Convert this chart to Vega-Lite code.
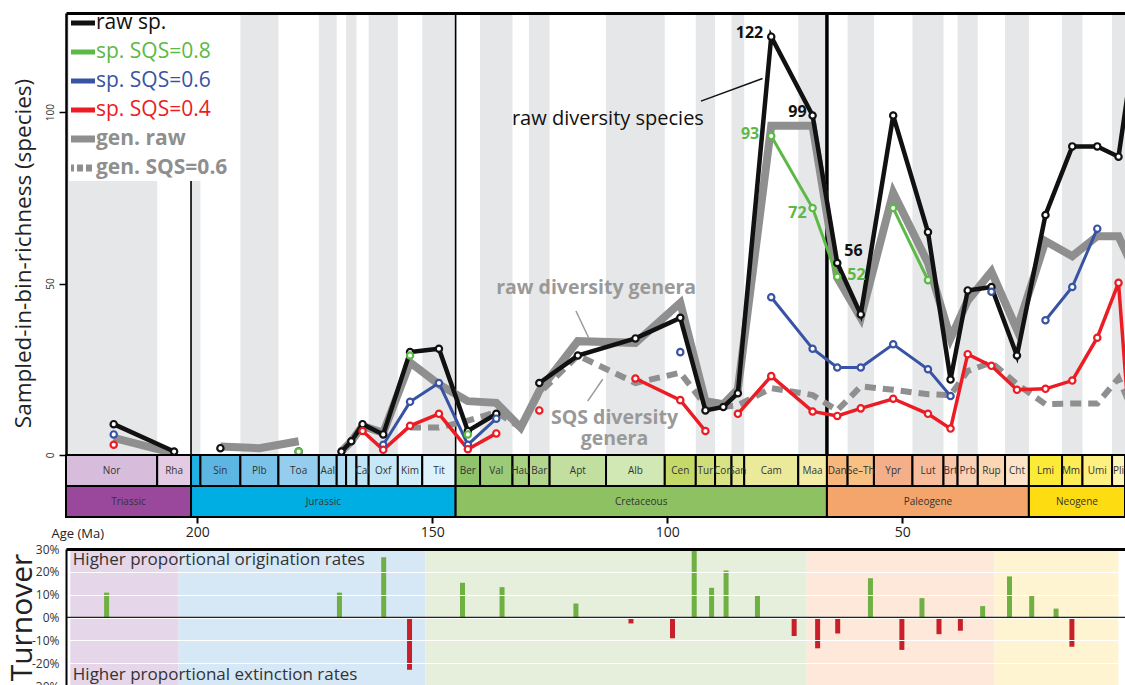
{
"$schema": "https://vega.github.io/schema/vega-lite/v6.json",
"background": "white",
"padding": {"left": 6, "top": 10, "right": 0, "bottom": 0},
"autosize": {"type": "pad"},
"config": {
  "font": "Open Sans",
  "view": {"stroke": null},
  "axis": {"labelFont": "Open Sans", "titleFont": "Open Sans"},
  "axisY": {"labelOverlap": false},
  "legend": {"labelFont": "Open Sans"},
  "text": {"font": "Open Sans"}
},
"datasets": {
  "bands": [
    {"row":"stage","name":"Nor","label":"Nor","start":227.9,"end":208.5,"mid":218.2},
    {"row":"stage","name":"Rha","label":"Rha","start":208.5,"end":201.3,"mid":204.9},
    {"row":"stage","name":"Het","label":"","start":201.3,"end":199.3,"mid":200.3},
    {"row":"stage","name":"Sin","label":"Sin","start":199.3,"end":190.8,"mid":195.05},
    {"row":"stage","name":"Plb","label":"Plb","start":190.8,"end":182.7,"mid":186.75},
    {"row":"stage","name":"Toa","label":"Toa","start":182.7,"end":174.1,"mid":178.4},
    {"row":"stage","name":"Aal","label":"Aal","start":174.1,"end":170.3,"mid":172.2},
    {"row":"stage","name":"Baj","label":"","start":170.3,"end":168.3,"mid":169.3},
    {"row":"stage","name":"Bat","label":"","start":168.3,"end":166.1,"mid":167.2},
    {"row":"stage","name":"Cal","label":"Cal","start":166.1,"end":163.5,"mid":164.8},
    {"row":"stage","name":"Oxf","label":"Oxf","start":163.5,"end":157.3,"mid":160.4},
    {"row":"stage","name":"Kim","label":"Kim","start":157.3,"end":152.1,"mid":154.7},
    {"row":"stage","name":"Tit","label":"Tit","start":152.1,"end":145.0,"mid":148.55},
    {"row":"stage","name":"Ber","label":"Ber","start":145.0,"end":139.8,"mid":142.4},
    {"row":"stage","name":"Val","label":"Val","start":139.8,"end":132.9,"mid":136.35},
    {"row":"stage","name":"Hau","label":"Hau","start":132.9,"end":129.4,"mid":131.15},
    {"row":"stage","name":"Bar","label":"Bar","start":129.4,"end":125.0,"mid":127.2},
    {"row":"stage","name":"Apt","label":"Apt","start":125.0,"end":113.0,"mid":119.0},
    {"row":"stage","name":"Alb","label":"Alb","start":113.0,"end":100.5,"mid":106.75},
    {"row":"stage","name":"Cen","label":"Cen","start":100.5,"end":93.9,"mid":97.2},
    {"row":"stage","name":"Tur","label":"Tur","start":93.9,"end":89.8,"mid":91.85},
    {"row":"stage","name":"Con","label":"Con","start":89.8,"end":86.3,"mid":88.05},
    {"row":"stage","name":"San","label":"San","start":86.3,"end":83.6,"mid":84.95},
    {"row":"stage","name":"Cam","label":"Cam","start":83.6,"end":72.1,"mid":77.85},
    {"row":"stage","name":"Maa","label":"Maa","start":72.1,"end":66.0,"mid":69.05},
    {"row":"stage","name":"Dan","label":"Dan","start":66.0,"end":61.6,"mid":63.8},
    {"row":"stage","name":"SeTh","label":"Se–Th","start":61.6,"end":56.0,"mid":58.8},
    {"row":"stage","name":"Ypr","label":"Ypr","start":56.0,"end":47.8,"mid":51.9},
    {"row":"stage","name":"Lut","label":"Lut","start":47.8,"end":41.2,"mid":44.5},
    {"row":"stage","name":"Brt","label":"Brt","start":41.2,"end":38.2,"mid":39.7},
    {"row":"stage","name":"Prb","label":"Prb","start":38.2,"end":33.9,"mid":36.05},
    {"row":"stage","name":"Rup","label":"Rup","start":33.9,"end":28.1,"mid":31.0},
    {"row":"stage","name":"Cht","label":"Cht","start":28.1,"end":23.03,"mid":25.57},
    {"row":"stage","name":"Lmi","label":"Lmi","start":23.03,"end":15.97,"mid":19.5},
    {"row":"stage","name":"Mmi","label":"Mmi","start":15.97,"end":11.63,"mid":13.8},
    {"row":"stage","name":"Umi","label":"Umi","start":11.63,"end":5.33,"mid":8.48},
    {"row":"stage","name":"Pli","label":"Pli","start":5.33,"end":2.58,"mid":3.96},
    {"row":"period","name":"Triassic","label":"Triassic","start":227.9,"end":201.3,"mid":214.6},
    {"row":"period","name":"Jurassic","label":"Jurassic","start":201.3,"end":145.0,"mid":173.15},
    {"row":"period","name":"Cretaceous","label":"Cretaceous","start":145.0,"end":66.0,"mid":105.5},
    {"row":"period","name":"Paleogene","label":"Paleogene","start":66.0,"end":23.03,"mid":44.5},
    {"row":"period","name":"Neogene","label":"Neogene","start":23.03,"end":2.58,"mid":12.8}
  ],
  "series": [
    {"stage":"Nor","age":217.75,"raw":9,"s6":6,"s4":3,"graw":5},
    {"stage":"Rha","age":204.9,"raw":1,"graw":0.5},
    {"stage":"Het","age":200.3},
    {"stage":"Sin","age":195.05,"raw":2,"graw":2.5},
    {"stage":"Plb","age":186.75,"graw":2},
    {"stage":"Toa","age":178.4,"raw":1,"s8":1,"graw":4},
    {"stage":"Aal","age":172.2},
    {"stage":"Baj","age":169.3,"raw":1,"graw":1},
    {"stage":"Bat","age":167.2,"raw":4,"graw":4},
    {"stage":"Cal","age":164.8,"raw":9,"s4":7,"graw":8.5},
    {"stage":"Oxf","age":160.4,"raw":6,"s6":3,"s4":1.5,"graw":6.5},
    {"stage":"Kim","age":154.7,"raw":30,"s8":29,"s6":15.5,"s4":8.5,"graw":27,"gsqs":8},
    {"stage":"Tit","age":148.55,"raw":31,"s6":21,"s4":12,"graw":20.6,"gsqs":8},
    {"stage":"Ber","age":142.4,"raw":7,"s8":6,"s6":3,"s4":1.7,"graw":15.7,"gsqs":10},
    {"stage":"Val","age":136.35,"raw":12,"s6":10.6,"s4":6.3,"graw":15.2,"gsqs":12.5},
    {"stage":"Hau","age":131.15,"graw":8,"gsqs":8},
    {"stage":"Bar","age":127.2,"raw":21,"s4":13,"graw":18.7,"gsqs":18},
    {"stage":"Apt","age":119.0,"raw":29,"graw":33.2,"gsqs":29},
    {"stage":"Alb","age":106.75,"raw":34,"s4":22.3,"graw":32.7,"gsqs":21},
    {"stage":"Cen","age":97.2,"raw":40,"s6":30,"s4":16,"graw":44.4,"gsqs":24},
    {"stage":"Tur","age":91.85,"raw":13,"s4":7,"graw":15.7,"gsqs":14.5},
    {"stage":"Con","age":88.05,"raw":14,"graw":14.8,"gsqs":14},
    {"stage":"San","age":84.95,"raw":18,"s4":12,"graw":19.2,"gsqs":14.5},
    {"stage":"Cam","age":77.85,"raw":122,"s8":93,"s6":46,"s4":23,"graw":96,"gsqs":19.5},
    {"stage":"Maa","age":69.05,"raw":99,"s8":72,"s6":31,"s4":12.7,"graw":96,"gsqs":17.5},
    {"stage":"Dan","age":63.8,"raw":56,"s8":52,"s6":25.5,"s4":11.4,"graw":51.7,"gsqs":13},
    {"stage":"SeTh","age":58.8,"raw":41,"s6":25.5,"s4":13.6,"graw":40,"gsqs":20},
    {"stage":"Ypr","age":51.9,"raw":99,"s8":72,"s6":32.3,"s4":16.4,"graw":76.5,"gsqs":19},
    {"stage":"Lut","age":44.5,"raw":65,"s8":51,"s6":25,"s4":12,"graw":56,"gsqs":17.7},
    {"stage":"Brt","age":39.7,"raw":22,"s6":17.2,"s4":7.7,"graw":34,"gsqs":17.5},
    {"stage":"Prb","age":36.05,"raw":48,"s4":29.4,"graw":45,"gsqs":24.5},
    {"stage":"Rup","age":31.0,"raw":49,"s6":47.6,"s4":26,"graw":53.5,"gsqs":27},
    {"stage":"Cht","age":25.57,"raw":29,"s4":19,"graw":36.6,"gsqs":20.7},
    {"stage":"Lmi","age":19.5,"raw":70,"s6":39.3,"s4":19.3,"graw":62.4,"gsqs":14.8},
    {"stage":"Mmi","age":13.8,"raw":90,"s6":49,"s4":21.7,"graw":58,"gsqs":15},
    {"stage":"Umi","age":8.48,"raw":90,"s6":66,"s4":34.2,"graw":63.8,"gsqs":15},
    {"stage":"Pli","age":3.96,"raw":87,"s4":50.2,"graw":63.8,"gsqs":22.4},
    {"stage":"Ple","age":1.3,"raw":112,"s4":2,"graw":56,"gsqs":14}
  ],
  "turnover": [
    {"age":219.0,"value":10.9},{"age":164.6,"value":10.9},{"age":154.5,"value":26.4},{"age":148.6,"value":-22.9},
    {"age":137.3,"value":15.2},{"age":129.1,"value":13.3},{"age":113.8,"value":6.1},{"age":102.4,"value":-2.6},
    {"age":93.8,"value":-9.1},{"age":89.3,"value":29.6},{"age":85.7,"value":13.0},{"age":82.7,"value":20.6},
    {"age":76.2,"value":9.7},{"age":68.6,"value":-8.1},{"age":63.5,"value":-13.5},{"age":58.9,"value":-7.0},
    {"age":51.4,"value":17.2},{"age":44.2,"value":-14.2},{"age":39.6,"value":8.5},{"age":35.7,"value":-7.3},
    {"age":30.8,"value":-5.8},{"age":25.7,"value":5.0},{"age":20.53,"value":18.0},{"age":16.87,"value":9.4},
    {"age":12.86,"value":3.9},{"age":10.25,"value":-12.8}
  ],
  "notes": [
    {"text":"raw diversity species","kind":"species","age":112.6,"value":98},
    {"text":"raw diversity genera","kind":"genera","age":115.1,"value":48.7},
    {"text":"SQS diversity\ngenera","kind":"genera","age":111.2,"value":10.9}
  ],
  "leaders": [
    {"kind":"species","age":92.8,"value":103.2,"age2":79.7,"value2":109.8},
    {"kind":"genera","age":119.4,"value":42,"age2":116.7,"value2":34.2},
    {"kind":"genera","age":113.7,"value":22.1,"age2":116.9,"value2":15.7}
  ],
  "notesB": [
    {"text":"Higher proportional origination rates","age":227.3,"value":25},
    {"text":"Higher proportional extinction rates","age":227.3,"value":-25}
  ]
},
"bounds": "flush",
"spacing": 0,
"resolve": {"scale": {"color": "independent", "fill": "independent"}},
"vconcat": [
  {
    "width": 1059,
    "height": 442,
    "layer": [
      {
        "data": {"name": "bands"},
        "transform": [
          {"filter": "datum.row === 'stage'"},
          {"window": [{"op": "row_number", "as": "n"}], "sort": [{"field": "start", "order": "descending"}]},
          {"filter": "datum.n % 2 === 1"}
        ],
        "mark": {"type": "rect", "color": "#e6e7e8"},
        "encoding": {
          "x": {"field": "start", "type": "quantitative", "scale": {"domain": [2.58, 227.9], "reverse": true, "nice": false, "zero": false},
                "axis": {"orient": "top", "labels": false, "ticks": false, "grid": false, "domainColor": "#000", "domainWidth": 3, "title": null, "zindex": 1}},
          "x2": {"field": "end"}
        }
      },
      {
        "data": {"name": "bands"},
        "transform": [{"filter": "datum.name === 'Triassic' || datum.name === 'Jurassic'"}],
        "mark": {"type": "rule", "color": "#000", "strokeWidth": 1.6},
        "encoding": {"x": {"field": "end", "type": "quantitative"}}
      },
      {
        "data": {"name": "bands"},
        "transform": [{"filter": "datum.name === 'Cretaceous'"}],
        "mark": {"type": "rule", "color": "#000", "strokeWidth": 3.5},
        "encoding": {"x": {"field": "end", "type": "quantitative"}}
      },
      {
        "data": {"name": "series"},
        "transform": [{"fold": ["raw","s8","s6","s4","graw","gsqs"], "as": ["key","value"]}, {"filter": "datum.key === 'graw'"}],
        "mark": {"type": "line", "strokeWidth": 8, "invalid": "break-paths-show-domains", "clip": true},
        "encoding": {
          "x": {"field": "age", "type": "quantitative"},
          "y": {"field": "value", "type": "quantitative", "scale": {"domain": [0, 128.9], "nice": false, "zero": false},
                "axis": {"values": [0, 50, 100], "labelAngle": 270, "labelAlign": "center", "labelBaseline": "bottom", "labelFontSize": 10, "labelColor": "#333",
                         "tickSize": 7, "tickWidth": 1.5, "tickColor": "#000", "labelPadding": 4, "domainColor": "#000", "domainWidth": 2.5, "grid": false, "zindex": 1,
                         "title": "Sampled-in-bin-richness (species)", "titleFontSize": 22.5, "titleFontWeight": "normal", "titleColor": "#222",
                         "titleX": -43, "titleY": 240, "titleAngle": 270, "titleAlign": "center", "titleBaseline": "middle"}},
          "color": {"field": "key", "type": "nominal",
                    "scale": {"domain": ["raw","s8","s6","s4","graw","gsqs"], "range": ["#111111","#5cb946","#3953a4","#ec1c24","#8f8f8f","#8f8f8f"]},
                    "legend": {"orient": "none", "legendX": 3, "legendY": -3, "title": null, "padding": 2, "fillColor": "white",
                               "symbolType": "stroke", "symbolSize": 729, "symbolStrokeWidth": 5, "labelFontSize": 21, "labelOffset": 4, "rowPadding": 7, "clipHeight": 22,
                               "labelExpr": "datum.value === 'raw' ? 'raw sp.' : datum.value === 's8' ? 'sp. SQS=0.8' : datum.value === 's6' ? 'sp. SQS=0.6' : datum.value === 's4' ? 'sp. SQS=0.4' : datum.value === 'graw' ? 'gen. raw' : 'gen. SQS=0.6'",
                               "encode": {
                                 "labels": {"update": {
                                   "fill": {"signal": "datum.value === 'raw' ? '#111111' : datum.value === 's8' ? '#5cb946' : datum.value === 's6' ? '#3953a4' : datum.value === 's4' ? '#ec1c24' : '#8f8f8f'"},
                                   "fontWeight": {"signal": "(datum.value === 'graw' || datum.value === 'gsqs') ? 'bold' : 'normal'"}}},
                                 "symbols": {"update": {
                                   "stroke": {"signal": "datum.value === 'raw' ? '#111111' : datum.value === 's8' ? '#5cb946' : datum.value === 's6' ? '#3953a4' : datum.value === 's4' ? '#ec1c24' : '#8f8f8f'"},
                                   "strokeWidth": {"signal": "(datum.value === 'graw' || datum.value === 'gsqs') ? 7 : 5"},
                                   "strokeDash": {"signal": "datum.value === 'gsqs' ? [6, 3] : [1000, 0]"}}}
                               }}}
        }
      },
      {
        "data": {"name": "series"},
        "transform": [{"fold": ["raw","s8","s6","s4","graw","gsqs"], "as": ["key","value"]}, {"filter": "datum.key === 'gsqs'"}],
        "mark": {"type": "line", "strokeWidth": 6, "strokeDash": [11, 7], "invalid": "break-paths-show-domains", "clip": true},
        "encoding": {"x": {"field": "age", "type": "quantitative"}, "y": {"field": "value", "type": "quantitative"}, "color": {"field": "key", "type": "nominal"}}
      },
      {
        "data": {"name": "series"},
        "transform": [{"fold": ["raw","s8","s6","s4","graw","gsqs"], "as": ["key","value"]}, {"filter": "datum.key === 'raw'"}],
        "mark": {"type": "line", "strokeWidth": 4.5, "invalid": "break-paths-show-domains", "clip": true},
        "encoding": {"x": {"field": "age", "type": "quantitative"}, "y": {"field": "value", "type": "quantitative"}, "color": {"field": "key", "type": "nominal"}}
      },
      {
        "data": {"name": "series"},
        "transform": [{"fold": ["raw","s8","s6","s4","graw","gsqs"], "as": ["key","value"]}, {"filter": "datum.key === 's6'"}],
        "mark": {"type": "line", "strokeWidth": 3, "invalid": "break-paths-show-domains", "clip": true},
        "encoding": {"x": {"field": "age", "type": "quantitative"}, "y": {"field": "value", "type": "quantitative"}, "color": {"field": "key", "type": "nominal"}}
      },
      {
        "data": {"name": "series"},
        "transform": [{"fold": ["raw","s8","s6","s4","graw","gsqs"], "as": ["key","value"]}, {"filter": "datum.key === 's4'"}],
        "mark": {"type": "line", "strokeWidth": 3.5, "invalid": "break-paths-show-domains", "clip": true},
        "encoding": {"x": {"field": "age", "type": "quantitative"}, "y": {"field": "value", "type": "quantitative"}, "color": {"field": "key", "type": "nominal"}}
      },
      {
        "data": {"name": "series"},
        "transform": [{"fold": ["raw","s8","s6","s4","graw","gsqs"], "as": ["key","value"]}, {"filter": "datum.key === 's8'"}],
        "mark": {"type": "line", "strokeWidth": 3, "invalid": "break-paths-show-domains", "clip": true},
        "encoding": {"x": {"field": "age", "type": "quantitative"}, "y": {"field": "value", "type": "quantitative"}, "color": {"field": "key", "type": "nominal"}}
      },
      {
        "data": {"name": "series"},
        "transform": [{"fold": ["raw","s8","s6","s4","graw","gsqs"], "as": ["key","value"]}, {"filter": "datum.key === 'raw' && isValid(datum.value)"}],
        "mark": {"type": "point", "shape": "circle", "filled": false, "fill": "white", "fillOpacity": 1, "opacity": 1, "size": 40, "strokeWidth": 2.2, "clip": true},
        "encoding": {"x": {"field": "age", "type": "quantitative"}, "y": {"field": "value", "type": "quantitative"}, "color": {"field": "key", "type": "nominal"}}
      },
      {
        "data": {"name": "series"},
        "transform": [{"fold": ["raw","s8","s6","s4","graw","gsqs"], "as": ["key","value"]}, {"filter": "datum.key === 's6' && isValid(datum.value)"}],
        "mark": {"type": "point", "shape": "circle", "filled": false, "fill": "white", "fillOpacity": 1, "opacity": 1, "size": 40, "strokeWidth": 2.2, "clip": true},
        "encoding": {"x": {"field": "age", "type": "quantitative"}, "y": {"field": "value", "type": "quantitative"}, "color": {"field": "key", "type": "nominal"}}
      },
      {
        "data": {"name": "series"},
        "transform": [{"fold": ["raw","s8","s6","s4","graw","gsqs"], "as": ["key","value"]}, {"filter": "datum.key === 's4' && isValid(datum.value)"}],
        "mark": {"type": "point", "shape": "circle", "filled": false, "fill": "white", "fillOpacity": 1, "opacity": 1, "size": 40, "strokeWidth": 2.2, "clip": true},
        "encoding": {"x": {"field": "age", "type": "quantitative"}, "y": {"field": "value", "type": "quantitative"}, "color": {"field": "key", "type": "nominal"}}
      },
      {
        "data": {"name": "series"},
        "transform": [{"fold": ["raw","s8","s6","s4","graw","gsqs"], "as": ["key","value"]}, {"filter": "datum.key === 's8' && isValid(datum.value)"}],
        "mark": {"type": "point", "shape": "circle", "filled": false, "fill": "white", "fillOpacity": 1, "opacity": 1, "size": 40, "strokeWidth": 2.2, "clip": true},
        "encoding": {"x": {"field": "age", "type": "quantitative"}, "y": {"field": "value", "type": "quantitative"}, "color": {"field": "key", "type": "nominal"}}
      },
      {
        "data": {"name": "leaders"},
        "mark": {"type": "rule", "strokeWidth": 1.5},
        "encoding": {
          "x": {"field": "age", "type": "quantitative"}, "y": {"field": "value", "type": "quantitative"},
          "x2": {"field": "age2"}, "y2": {"field": "value2"},
          "stroke": {"condition": {"test": "datum.kind === 'species'", "value": "#111111"}, "value": "#9a9a9a"}
        }
      },
      {
        "data": {"name": "notes"},
        "transform": [{"filter": "datum.kind === 'species'"}],
        "mark": {"type": "text", "fontSize": 20, "color": "#111111", "align": "center", "baseline": "middle"},
        "encoding": {"x": {"field": "age", "type": "quantitative"}, "y": {"field": "value", "type": "quantitative"}, "text": {"field": "text"}}
      },
      {
        "data": {"name": "notes"},
        "transform": [{"filter": "datum.kind === 'genera'"}],
        "mark": {"type": "text", "fontSize": 19.5, "fontWeight": "bold", "color": "#999999", "align": "center", "baseline": "middle", "lineBreak": "\n", "lineHeight": 21},
        "encoding": {"x": {"field": "age", "type": "quantitative"}, "y": {"field": "value", "type": "quantitative"}, "text": {"field": "text"}}
      },
      {
        "data": {"name": "series"},
        "transform": [{"fold": ["raw","s8","s6","s4","graw","gsqs"], "as": ["key","value"]}, {"filter": "datum.key === 'raw' && datum.stage === 'Cam'"}],
        "mark": {"type": "text", "align": "right", "baseline": "middle", "dx": -8, "dy": -4, "fontSize": 16, "fontWeight": "bold", "color": "#111111"},
        "encoding": {"x": {"field": "age", "type": "quantitative"}, "y": {"field": "value", "type": "quantitative"}, "text": {"field": "value", "type": "quantitative"}}
      },
      {
        "data": {"name": "series"},
        "transform": [{"fold": ["raw","s8","s6","s4","graw","gsqs"], "as": ["key","value"]}, {"filter": "datum.key === 'raw' && datum.stage === 'Maa'"}],
        "mark": {"type": "text", "align": "right", "baseline": "middle", "dx": -6, "dy": -4, "fontSize": 16, "fontWeight": "bold", "color": "#111111"},
        "encoding": {"x": {"field": "age", "type": "quantitative"}, "y": {"field": "value", "type": "quantitative"}, "text": {"field": "value", "type": "quantitative"}}
      },
      {
        "data": {"name": "series"},
        "transform": [{"fold": ["raw","s8","s6","s4","graw","gsqs"], "as": ["key","value"]}, {"filter": "datum.key === 'raw' && datum.stage === 'Dan'"}],
        "mark": {"type": "text", "align": "left", "baseline": "middle", "dx": 7, "dy": -12, "fontSize": 16, "fontWeight": "bold", "color": "#111111"},
        "encoding": {"x": {"field": "age", "type": "quantitative"}, "y": {"field": "value", "type": "quantitative"}, "text": {"field": "value", "type": "quantitative"}}
      },
      {
        "data": {"name": "series"},
        "transform": [{"fold": ["raw","s8","s6","s4","graw","gsqs"], "as": ["key","value"]}, {"filter": "datum.key === 's8' && datum.stage === 'Cam'"}],
        "mark": {"type": "text", "align": "right", "baseline": "middle", "dx": -12, "dy": -2, "fontSize": 16, "fontWeight": "bold", "color": "#5cb946"},
        "encoding": {"x": {"field": "age", "type": "quantitative"}, "y": {"field": "value", "type": "quantitative"}, "text": {"field": "value", "type": "quantitative"}}
      },
      {
        "data": {"name": "series"},
        "transform": [{"fold": ["raw","s8","s6","s4","graw","gsqs"], "as": ["key","value"]}, {"filter": "datum.key === 's8' && datum.stage === 'Maa'"}],
        "mark": {"type": "text", "align": "right", "baseline": "middle", "dx": -6, "dy": 5, "fontSize": 16, "fontWeight": "bold", "color": "#5cb946"},
        "encoding": {"x": {"field": "age", "type": "quantitative"}, "y": {"field": "value", "type": "quantitative"}, "text": {"field": "value", "type": "quantitative"}}
      },
      {
        "data": {"name": "series"},
        "transform": [{"fold": ["raw","s8","s6","s4","graw","gsqs"], "as": ["key","value"]}, {"filter": "datum.key === 's8' && datum.stage === 'Dan'"}],
        "mark": {"type": "text", "align": "left", "baseline": "middle", "dx": 10, "dy": -2, "fontSize": 16, "fontWeight": "bold", "color": "#5cb946"},
        "encoding": {"x": {"field": "age", "type": "quantitative"}, "y": {"field": "value", "type": "quantitative"}, "text": {"field": "value", "type": "quantitative"}}
      }
    ]
  },
  {
    "width": 1059,
    "height": 94,
    "layer": [
      {
        "data": {"name": "bands"},
        "mark": {"type": "rect", "stroke": "#000", "strokeWidth": 2},
        "encoding": {
          "x": {"field": "start", "type": "quantitative", "scale": {"domain": [2.58, 227.9], "reverse": true, "nice": false, "zero": false},
                "axis": {"orient": "bottom", "offset": -32, "values": [200, 150, 100, 50], "domain": false, "grid": false, "ticks": true, "tickSize": 6, "tickWidth": 2, "tickColor": "#000",
                         "labelFontSize": 14, "labelColor": "#222", "labelPadding": 2,
                         "title": "Age (Ma)", "titleFontSize": 13, "titleFontWeight": "normal", "titleColor": "#222", "titleX": -15, "titleY": 10, "titleAlign": "left", "titleBaseline": "top"}},
          "x2": {"field": "end"},
          "y": {"field": "row", "type": "nominal", "scale": {"domain": ["stage", "period"], "range": [0, 62], "paddingInner": 0, "paddingOuter": 0}, "axis": null},
          "fill": {"field": "name", "type": "nominal", "legend": null,
                   "scale": {"domain": ["Nor","Rha","Het","Sin","Plb","Toa","Aal","Baj","Bat","Cal","Oxf","Kim","Tit","Ber","Val","Hau","Bar","Apt","Alb","Cen","Tur","Con","San","Cam","Maa","Dan","SeTh","Ypr","Lut","Brt","Prb","Rup","Cht","Lmi","Mmi","Umi","Pli","Triassic","Jurassic","Cretaceous","Paleogene","Neogene"],
                             "range": ["#d7bcdb","#e3cbe4","#1fb0e4","#5cb6e2","#79c2e9","#94cdee","#a5d8f1","#b0ddf3","#b8e1f4","#bfe4f5","#c7e9f7","#d2edf8","#ddf2fa","#8fc46b","#9ccb77","#a8d184","#b3d68f","#c2dfa0","#d2e8b4","#c4d968","#d0de7a","#d9e385","#e1e78f","#ebea9b","#f3eca6","#f6b67c","#f8c183","#f4af8a","#f6bc9b","#f8c7a9","#f9d1b7","#fbd6b2","#fde3c7","#fbea37","#fcec55","#fdf081","#fef6b4","#9a489b","#00aee3","#8dc162","#f4a56c","#fddc12"]}}
        }
      },
      {
        "data": {"name": "bands"},
        "mark": {"type": "text", "fontSize": 10, "color": "#333333", "baseline": "middle", "align": "center"},
        "encoding": {
          "x": {"field": "mid", "type": "quantitative"},
          "y": {"field": "row", "type": "nominal"},
          "text": {"field": "label"}
        }
      }
    ]
  },
  {
    "width": 1059,
    "height": 137,
    "layer": [
      {
        "data": {"name": "bands"},
        "transform": [{"filter": "datum.row === 'period'"}],
        "mark": {"type": "rect"},
        "encoding": {
          "x": {"field": "start", "type": "quantitative",
                "scale": {"domain": [2.58, 23.03, 66, 145, 201.3, 227.9], "range": [1059, 928.3, 740.7, 359.3, 112.7, 0], "nice": false, "zero": false},
                "axis": {"orient": "top", "labels": false, "ticks": false, "grid": false, "domainColor": "#000", "domainWidth": 3, "title": null, "zindex": 2}},
          "x2": {"field": "end"},
          "fill": {"field": "name", "type": "nominal", "legend": null,
                   "scale": {"domain": ["Triassic","Jurassic","Cretaceous","Paleogene","Neogene"], "range": ["#e6d6ea","#d6e8f6","#e6efdb","#fde8da","#fff4d2"]}}
        }
      },
      {
        "data": {"name": "turnover"},
        "mark": {"type": "bar", "width": 5},
        "encoding": {
          "x": {"field": "age", "type": "quantitative"},
          "y": {"field": "value", "type": "quantitative", "scale": {"domain": [-30, 30], "nice": false, "zero": false},
                "axis": {"values": [-30, -20, -10, 0, 10, 20, 30], "labelExpr": "datum.value + '%'", "labelOverlap": false, "labelSeparation": 0, "ticks": false, "labelPadding": 7, "labelFontSize": 12, "labelColor": "#333",
                         "domainColor": "#000", "domainWidth": 2, "grid": true, "gridColor": "#ffffff", "gridWidth": 1.2, "zindex": 1,
                         "title": "Turnover", "titleFontSize": 30, "titleFontWeight": "normal", "titleColor": "#222", "titleX": -44, "titleY": 68, "titleAngle": 270, "titleAlign": "center", "titleBaseline": "middle"}},
          "y2": {"datum": 0},
          "color": {"condition": {"test": "datum.value > 0", "value": "#6fb043"}, "value": "#c8202a"}
        }
      },
      {
        "data": {"values": [{}]},
        "mark": {"type": "rule", "color": "#222", "strokeWidth": 1.5},
        "encoding": {"y": {"datum": 0, "axis": {"values": [-30, -20, -10, 0, 10, 20, 30], "labelExpr": "datum.value + '%'", "labelOverlap": false, "labelSeparation": 0, "ticks": false, "labelPadding": 7, "labelFontSize": 12, "labelColor": "#333",
                         "domainColor": "#000", "domainWidth": 2, "grid": true, "gridColor": "#ffffff", "gridWidth": 1.2, "zindex": 1,
                         "title": "Turnover", "titleFontSize": 30, "titleFontWeight": "normal", "titleColor": "#222", "titleX": -44, "titleY": 68, "titleAngle": 270, "titleAlign": "center", "titleBaseline": "middle"}}}
      },
      {
        "data": {"name": "notesB"},
        "mark": {"type": "text", "align": "left", "baseline": "middle", "fontSize": 17, "color": "#333333"},
        "encoding": {"x": {"field": "age", "type": "quantitative"}, "y": {"field": "value", "type": "quantitative", "axis": {"values": [-30, -20, -10, 0, 10, 20, 30], "labelExpr": "datum.value + '%'", "labelOverlap": false, "labelSeparation": 0, "ticks": false, "labelPadding": 7, "labelFontSize": 12, "labelColor": "#333",
                         "domainColor": "#000", "domainWidth": 2, "grid": true, "gridColor": "#ffffff", "gridWidth": 1.2, "zindex": 1,
                         "title": "Turnover", "titleFontSize": 30, "titleFontWeight": "normal", "titleColor": "#222", "titleX": -44, "titleY": 68, "titleAngle": 270, "titleAlign": "center", "titleBaseline": "middle"}}, "text": {"field": "text"}}
      }
    ]
  }
]
}
